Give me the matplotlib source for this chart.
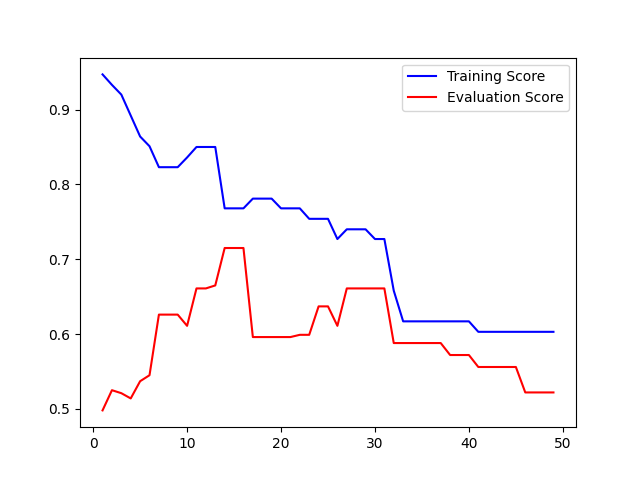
import matplotlib
matplotlib.use("Agg")
import matplotlib.pyplot as plt
import numpy as np

### Scores per step ###
steps = np.arange(1, 50)
train_score = [0.947, 0.933, 0.920, 0.892, 0.864, 0.851, 0.823, 0.823, 0.823, 0.836,
               0.850, 0.850, 0.850, 0.768, 0.768, 0.768, 0.781, 0.781, 0.781, 0.768,
               0.768, 0.768, 0.754, 0.754, 0.754, 0.727, 0.740, 0.740, 0.740, 0.727,
               0.727, 0.658, 0.617, 0.617, 0.617, 0.617, 0.617, 0.617, 0.617, 0.617,
               0.603, 0.603, 0.603, 0.603, 0.603, 0.603, 0.603, 0.603, 0.603]
eval_score = [0.498, 0.525, 0.521, 0.514, 0.537, 0.545, 0.626, 0.626, 0.626, 0.611,
              0.661, 0.661, 0.665, 0.715, 0.715, 0.715, 0.596, 0.596, 0.596, 0.596,
              0.596, 0.599, 0.599, 0.637, 0.637, 0.611, 0.661, 0.661, 0.661, 0.661,
              0.661, 0.588, 0.588, 0.588, 0.588, 0.588, 0.588, 0.572, 0.572, 0.572,
              0.556, 0.556, 0.556, 0.556, 0.556, 0.522, 0.522, 0.522, 0.522]

plt.figure(figsize=(6.4, 4.8), dpi=100)
plt.plot(steps, train_score, color='blue', label='Training Score')
plt.plot(steps, eval_score, color='red', label='Evaluation Score')
plt.legend(loc='upper right')
plt.savefig('out.png')
